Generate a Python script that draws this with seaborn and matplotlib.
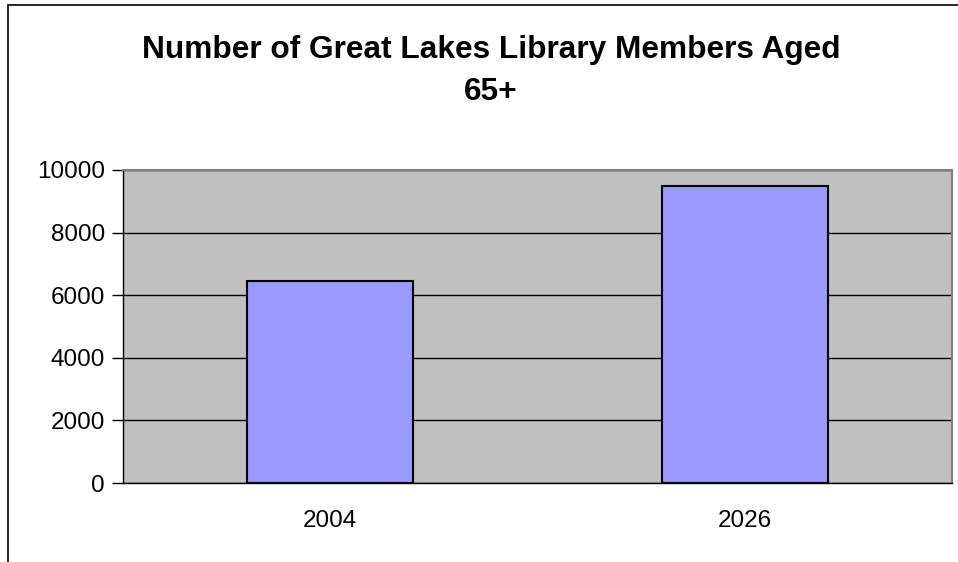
import matplotlib
matplotlib.use("Agg")
import matplotlib.pyplot as plt
from matplotlib.patches import Rectangle
import seaborn as sns
import pandas as pd

# Chart data
years = ["2004", "2026"]
members = [6460, 9490]
y_ticks = [0, 2000, 4000, 6000, 8000, 10000]
title_lines = ["Number of Great Lakes Library Members Aged", "65+"]

sns.set_style("white")
plt.rcParams["font.family"] = ["Liberation Sans", "DejaVu Sans"]
plt.rcParams["text.color"] = "black"
plt.rcParams["xtick.color"] = "black"
plt.rcParams["ytick.color"] = "black"

W, H = 958, 562
fig = plt.figure(figsize=(W / 100, H / 100), dpi=100)
fig.patch.set_facecolor("white")

# Outer chart border (runs off the right and bottom edges)
fig.patches.append(Rectangle((8 / W, -0.2), 1.5, (H - 5) / H + 0.2,
                             transform=fig.transFigure, fill=False,
                             edgecolor="black", linewidth=1.2, clip_on=False))

# Plot area
left, right, top, bottom = 123, 952, 170, 483
ax = fig.add_axes([left / W, (H - bottom) / H, (right - left) / W, (bottom - top) / H])
ax.set_facecolor("#C0C0C0")

df = pd.DataFrame({"year": years, "members": members})
sns.barplot(data=df, x="year", y="members", color="#9999FF", saturation=1,
            edgecolor="black", linewidth=1.5, width=0.4, ax=ax, zorder=3)

ax.set_xlim(-0.5, len(years) - 0.5)
ax.set_ylim(0, 10000)
ax.set_yticks(y_ticks)
ax.set_yticklabels([str(t) for t in y_ticks], fontsize=17.5)
ax.yaxis.grid(True, color="black", linewidth=1.0, zorder=1)
ax.set_axisbelow(True)

# Category labels centred, tick marks at category boundaries
ax.set_xticks(range(len(years)))
ax.set_xticklabels(years, fontsize=17.5)
ax.tick_params(axis="x", which="major", length=0, pad=19.5)
ax.set_xticks([i - 0.5 for i in range(len(years) + 1)], minor=True)
ax.tick_params(axis="x", which="minor", length=7, width=1, color="black", direction="out")
ax.tick_params(axis="y", length=8, width=1, color="black", direction="out", pad=5, left=True)

ax.set_xlabel("")
ax.set_ylabel("")

for side in ["top", "right"]:
    ax.spines[side].set_visible(True)
    ax.spines[side].set_color("#808080")
    ax.spines[side].set_linewidth(1.5)
for side in ["left", "bottom"]:
    ax.spines[side].set_visible(True)
    ax.spines[side].set_color("black")
    ax.spines[side].set_linewidth(1.0)

# Two-line bold title
for line, baseline in zip(title_lines, [58, 100]):
    fig.text(491 / W, 1 - baseline / H, line, ha="center", va="baseline",
             fontsize=22.8, fontweight="bold", color="black")

fig.savefig("out.png", dpi=100)
